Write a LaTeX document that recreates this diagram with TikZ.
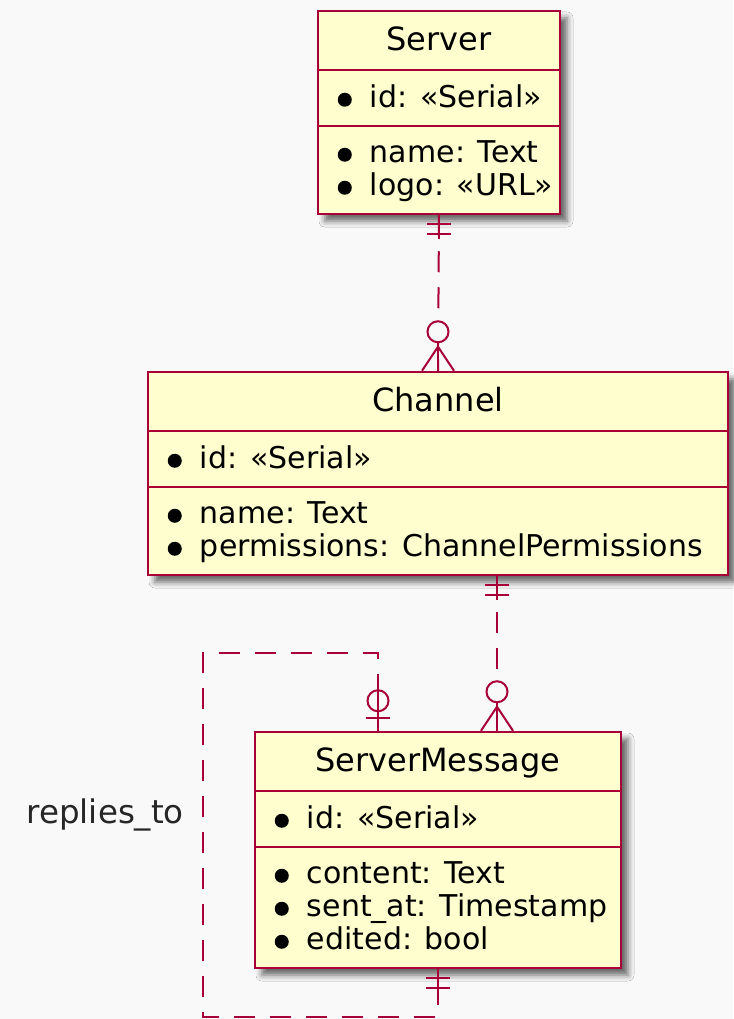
\documentclass[tikz,border=0pt]{standalone}
\usepackage{fontspec}
\setmainfont{DejaVu Sans}
\usetikzlibrary{shadows.blur}

\definecolor{umlred}{HTML}{A80036}
\definecolor{umlfill}{HTML}{FEFECE}
\definecolor{umlbg}{HTML}{F9F9F9}

\tikzset{
    entity/.style={draw=umlred, fill=umlfill, line width=2.5pt, inner sep=0pt,
        blur shadow={shadow xshift=7pt, shadow yshift=-7pt, shadow blur radius=6pt, shadow opacity=60}},
    sepline/.style={draw=umlred, line width=2pt},
    title/.style={anchor=base, inner sep=0pt, font=\fontsize{32}{36}\selectfont},
    field/.style={anchor=base west, inner sep=0pt},
    rel/.style={draw=umlred, line width=2pt, dash pattern=on 21pt off 15pt},
    % relation ends, drawn with the box edge at the origin
    crowzero/.pic={
        \draw[umlred, line width=2pt] (0,0) -- (0,-29);
        \draw[umlred, line width=2pt] (-16,0) -- (0,-24) -- (16,0);
        \draw[umlred, line width=2pt, fill=umlbg] (0,-39) circle (10.5pt);
    },
    onlyone/.pic={
        \draw[umlred, line width=2pt] (0,0) -- (0,-24);
        \draw[umlred, line width=2pt] (-12,-9) -- (12,-9);
        \draw[umlred, line width=2pt] (-12,-19) -- (12,-19);
    },
    zeroone/.pic={
        \draw[umlred, line width=2pt] (0,0) -- (0,-41);
        \draw[umlred, line width=2pt] (-12,-13) -- (12,-13);
        \draw[umlred, line width=2pt] (0,-30) circle (10.5pt);
    }
}

\begin{document}
\begin{tikzpicture}[x=1pt, y=-1pt, font=\fontsize{30}{33}\selectfont]
    \fill[umlbg] (0,0) rectangle (733,1019);
    \useasboundingbox (0,0) rectangle (733,1019);

    % entities
    \node[entity, minimum width=242pt, minimum height=203pt] (server) at (439,112.5) {};
    \node[entity, minimum width=580pt, minimum height=203pt] (channel) at (438,473.5) {};
    \node[entity, minimum width=366pt, minimum height=236pt] (msg) at (438,850) {};

    % Server
    \node[title] (servertitle) at ([yshift=-41pt]server.north) {Server};
    \draw[sepline] ([yshift=-60pt]server.north west) -- ([yshift=-60pt]server.north east);
    \draw[sepline] ([yshift=-116pt]server.north west) -- ([yshift=-116pt]server.north east);
    \node[field] (serverid) at ([xshift=53pt,yshift=-98pt]server.north west) {id: «Serial»};
    \node[field] (servername) at ([xshift=53pt,yshift=-153pt]server.north west) {name: Text};
    \node[field] (serverlogo) at ([xshift=53pt,yshift=-186pt]server.north west) {logo: «URL»};
    \fill ([xshift=-25pt,yshift=8pt]serverid.base west) circle (7pt);
    \fill ([xshift=-25pt,yshift=8pt]servername.base west) circle (7pt);
    \fill ([xshift=-25pt,yshift=8pt]serverlogo.base west) circle (7pt);

    % Channel
    \node[title] (channeltitle) at ([yshift=-41pt]channel.north) {Channel};
    \draw[sepline] ([yshift=-60pt]channel.north west) -- ([yshift=-60pt]channel.north east);
    \draw[sepline] ([yshift=-116pt]channel.north west) -- ([yshift=-116pt]channel.north east);
    \node[field] (channelid) at ([xshift=53pt,yshift=-98pt]channel.north west) {id: «Serial»};
    \node[field] (channelname) at ([xshift=53pt,yshift=-153pt]channel.north west) {name: Text};
    \node[field] (channelperm) at ([xshift=53pt,yshift=-186pt]channel.north west) {permissions: ChannelPermissions};
    \fill ([xshift=-25pt,yshift=8pt]channelid.base west) circle (7pt);
    \fill ([xshift=-25pt,yshift=8pt]channelname.base west) circle (7pt);
    \fill ([xshift=-25pt,yshift=8pt]channelperm.base west) circle (7pt);

    % ServerMessage
    \node[title] (msgtitle) at ([yshift=-41pt]msg.north) {ServerMessage};
    \draw[sepline] ([yshift=-60pt]msg.north west) -- ([yshift=-60pt]msg.north east);
    \draw[sepline] ([yshift=-116pt]msg.north west) -- ([yshift=-116pt]msg.north east);
    \node[field] (msgid) at ([xshift=53pt,yshift=-98pt]msg.north west) {id: «Serial»};
    \node[field] (msgcontent) at ([xshift=53pt,yshift=-153pt]msg.north west) {content: Text};
    \node[field] (msgsent) at ([xshift=53pt,yshift=-186pt]msg.north west) {sent\_at: Timestamp};
    \node[field] (msgedited) at ([xshift=53pt,yshift=-219pt]msg.north west) {edited: bool};
    \fill ([xshift=-25pt,yshift=8pt]msgid.base west) circle (7pt);
    \fill ([xshift=-25pt,yshift=8pt]msgcontent.base west) circle (7pt);
    \fill ([xshift=-25pt,yshift=8pt]msgsent.base west) circle (7pt);
    \fill ([xshift=-25pt,yshift=8pt]msgedited.base west) circle (7pt);

    % relations
    \draw[rel] (server.south) -- (channel.north);
    \pic[rotate=180] at (server.south) {onlyone};
    \pic at (channel.north) {crowzero};

    \draw[rel] ([xshift=59pt]channel.south) -- ([xshift=59pt]msg.north);
    \pic[rotate=180] at ([xshift=59pt]channel.south) {onlyone};
    \pic at ([xshift=59pt]msg.north) {crowzero};

    \coordinate (loopnw) at (203,653);
    \coordinate (loopsw) at (203,1017);
    \draw[rel] ([xshift=-60pt]msg.north) -- ([xshift=-60pt]msg.north |- loopnw) -- (loopnw)
        -- (loopsw) -- (msg.south |- loopsw) -- (msg.south);
    \pic at ([xshift=-60pt]msg.north) {zeroone};
    \pic[rotate=180] at (msg.south) {onlyone};
    \node[anchor=base east, inner sep=0pt, text=black!85, font=\fontsize{32.5}{36}\selectfont] (repliesto) at (184,823) {replies\_to};
\end{tikzpicture}
\end{document}
